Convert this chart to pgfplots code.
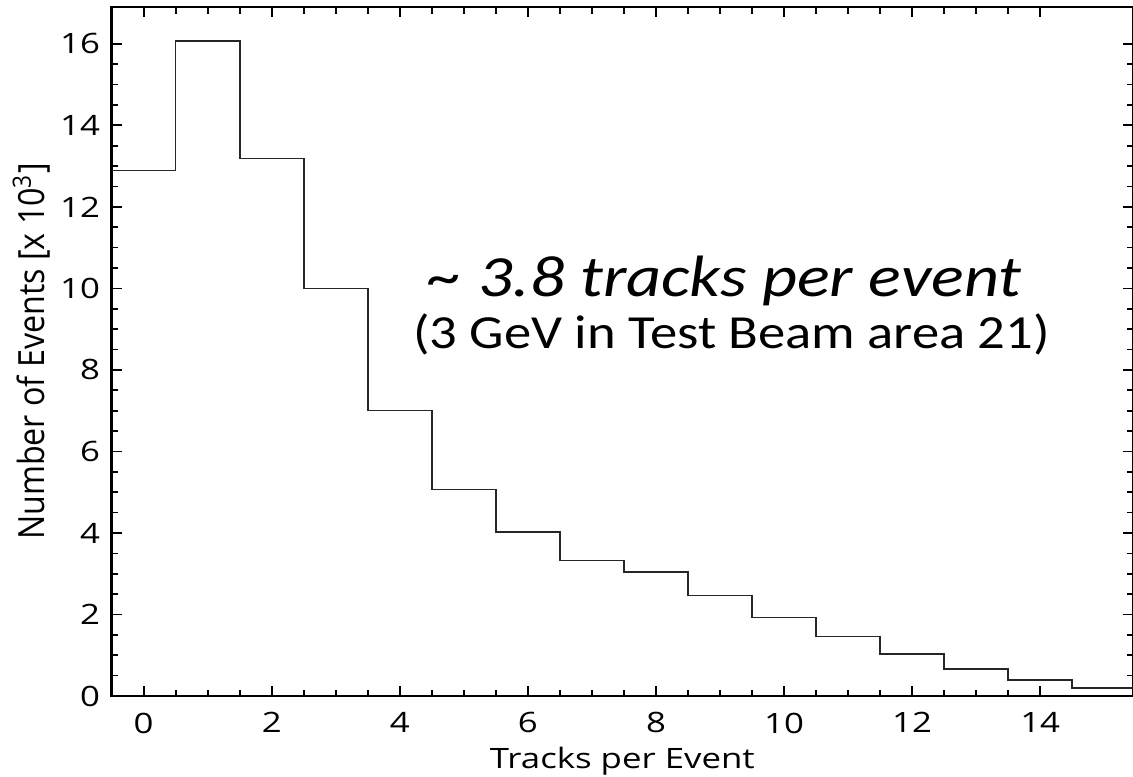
\documentclass[border=0pt]{standalone}
\usepackage{fontspec}
\setmainfont{Open Sans}[FakeStretch=1.24]
\newfontfamily\annfont{Carlito}[FakeStretch=1.17]
\newfontfamily\annfontb{Carlito}[FakeStretch=1.15]
\newfontfamily\ylabfont{Open Sans}
\usepackage{graphicx}
\usepackage{pgfplots}
\pgfplotsset{compat=1.18}
\begin{document}
\begin{tikzpicture}
\begin{axis}[
  scale only axis,
  width=367.7pt, height=248pt,
  xmin=-0.5, xmax=15.45, ymin=0, ymax=16.9,
  xtick={0,2,...,14}, ytick={0,2,...,16},
  xticklabels={0,2,4,6,8,10,12,14},
  yticklabels={0,2,4,6,8,10,12,14,16},
  minor x tick num=3, minor y tick num=3,
  tick align=inside,
  major tick length=3.6pt, minor tick length=2.3pt,
  axis line style={line width=0.85pt},
  every tick/.style={black, line width=0.6pt},
  ticklabel style={font=\fontsize{10.1}{12}\selectfont},
  xticklabel style={anchor=north, inner sep=0pt, yshift=-5.8pt},
  yticklabel style={anchor=east, inner sep=0pt, xshift=-4pt},
  xlabel={Tracks per Event},
  xlabel style={font=\fontsize{10.1}{12}\selectfont, at={(axis description cs:0.5,-0.095)}, anchor=center, inner sep=0pt},
  ylabel={\scalebox{1}[1.12]{\ylabfont Number of Events [x 10\textsuperscript{3}]}},
  ylabel style={font=\fontsize{11.6}{13}\selectfont, at={(axis description cs:-0.0785,0.5)}, anchor=center, inner sep=0pt},
]
\addplot[const plot, black!85, line width=0.55pt] coordinates {
  (-0.5,12.89) (0.5,16.07) (1.5,13.19) (2.5,10.00) (3.5,7.00)
  (4.5,5.07) (5.5,4.02) (6.5,3.33) (7.5,3.04) (8.5,2.46)
  (9.5,1.93) (10.5,1.46) (11.5,1.03) (12.5,0.66) (13.5,0.39)
  (14.5,0.20) (15.5,0.20)
};
\node[anchor=base, inner sep=0pt, font=\annfont\itshape\fontsize{21}{24}\selectfont] at (axis cs:9.08,9.80) {\textasciitilde{} 3.8 tracks per event};
\node[anchor=base, inner sep=0pt, font=\annfontb\fontsize{17.1}{20}\selectfont] at (axis cs:9.18,8.53) {(3 GeV in Test Beam area 21)};
\end{axis}
\pgfresetboundingbox
\useasboundingbox (-40.2pt,-28.8pt) rectangle (367.68pt,250.56pt);
\end{tikzpicture}
\end{document}
